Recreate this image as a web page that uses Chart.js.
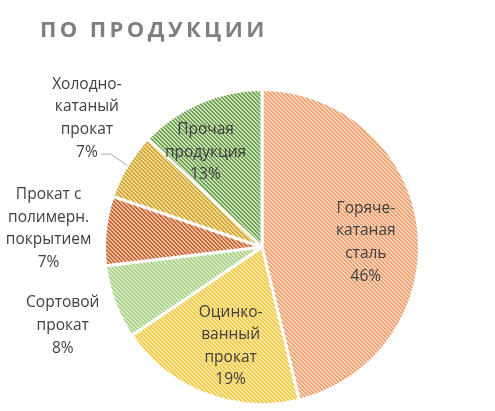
<!DOCTYPE html>
<html>
<head>
<meta charset="utf-8">
<script src="https://cdn.jsdelivr.net/npm/chart.js@4"></script>
<style>
  html, body { margin: 0; padding: 0; background: #ffffff; }
  #wrap { position: relative; width: 495px; height: 411px; }
  #title { position: absolute; left: 40px; top: 13px; font-family: "Open Sans", sans-serif; font-weight: bold; font-size: 22px; letter-spacing: 3.4px; color: #808080; white-space: nowrap; }
  canvas { position: absolute; left: 0; top: 0; }
</style>
</head>
<body>
<div id="wrap">
  <canvas id="c" width="495" height="411"></canvas>
  <div id="title">ПО ПРОДУКЦИИ</div>
</div>
<script>
// ---- data ----
const categories = [
  ['Горяче-', 'катаная', 'сталь'],
  ['Оцинко-', 'ванный', 'прокат'],
  ['Сортовой', 'прокат'],
  ['Прокат с', 'полимерн.', 'покрытием'],
  ['Холодно-', 'катаный', 'прокат'],
  ['Прочая', 'продукция']
];
const shares = [46.2, 19.3, 7.6, 7.1, 6.9, 12.9];

// ---- styles ----
const baseColors = ['#fbd9bd', '#fcea9e', '#dbecc6', '#f2bb95', '#f6dc8c', '#cae0b8'];
const lineColors = ['#ec9c6e', '#f0c850', '#a6cf88', '#c0693c', '#c9a43f', '#6fa250'];
// label placement: radius factor and angle nudge (deg)
const labelFactor = [0.66, 0.66, 1.36, 1.36, 1.38, 0.70];
const labelAngleNudge = [4.2, -3.5, -1, -1, 5.2, -7.6];
const leader = [false, false, false, false, true, false];

function hatch(base, line) {
  const c = document.createElement('canvas');
  c.width = 8; c.height = 8;
  const x = c.getContext('2d');
  x.fillStyle = base; x.fillRect(0, 0, 8, 8);
  x.fillStyle = line;
  for (let i = 0; i < 8; i++) for (let j = 0; j < 8; j++) {
    if ((((i - j) % 4) + 4) % 4 < 2) x.fillRect(i, j, 1, 1);
  }
  return x.createPattern(c, 'repeat');
}
const fills = baseColors.map((b, i) => hatch(b, lineColors[i]));

const FONT = '15.5px "Open Sans", sans-serif';
const LH = 22.6;

const labelPlugin = {
  id: 'sliceLabels',
  afterDatasetsDraw(chart) {
    const ctx = chart.ctx;
    const meta = chart.getDatasetMeta(0);
    const total = shares.reduce((a, b) => a + b, 0);
    ctx.save();
    ctx.font = FONT;
    ctx.fillStyle = '#404040';
    ctx.textAlign = 'center';
    ctx.textBaseline = 'middle';
    meta.data.forEach((arc, i) => {
      const p = arc.getProps(['x', 'y', 'startAngle', 'endAngle', 'outerRadius'], true);
      const mid = (p.startAngle + p.endAngle) / 2 + labelAngleNudge[i] * Math.PI / 180;
      const r = p.outerRadius * labelFactor[i];
      const cx = p.x + Math.cos(mid) * r;
      const cy = p.y + Math.sin(mid) * r;
      const lines = categories[i].concat([Math.round(shares[i] / total * 100) + '%']);
      const y0 = cy - (lines.length - 1) * LH / 2;
      lines.forEach((t, k) => ctx.fillText(t, cx, y0 + k * LH));
      if (leader[i]) {
        const lastY = y0 + (lines.length - 1) * LH;
        const w = ctx.measureText(lines[lines.length - 1]).width;
        const sx = cx + w / 2 + 3;
        const am = (p.startAngle + p.endAngle) / 2;
        const ex = p.x + Math.cos(am) * p.outerRadius;
        const ey = p.y + Math.sin(am) * p.outerRadius;
        ctx.beginPath();
        ctx.strokeStyle = '#a6a6a6';
        ctx.lineWidth = 1;
        ctx.moveTo(sx, lastY + 2);
        ctx.lineTo(sx + 10, lastY + 2);
        ctx.lineTo(ex, ey);
        ctx.stroke();
      }
    });
    ctx.restore();
  }
};

new Chart(document.getElementById('c'), {
  type: 'pie',
  data: {
    labels: categories.map(l => l.join(' ')),
    datasets: [{
      data: shares,
      backgroundColor: fills,
      borderColor: '#ffffff',
      borderWidth: 3,
      hoverOffset: 0
    }]
  },
  options: {
    responsive: false,
    animation: false,
    layout: { padding: { left: 103, right: 74, top: 88, bottom: 5 } },
    plugins: { legend: { display: false }, tooltip: { enabled: false }, title: { display: false } }
  },
  plugins: [labelPlugin]
});
</script>
</body>
</html>
